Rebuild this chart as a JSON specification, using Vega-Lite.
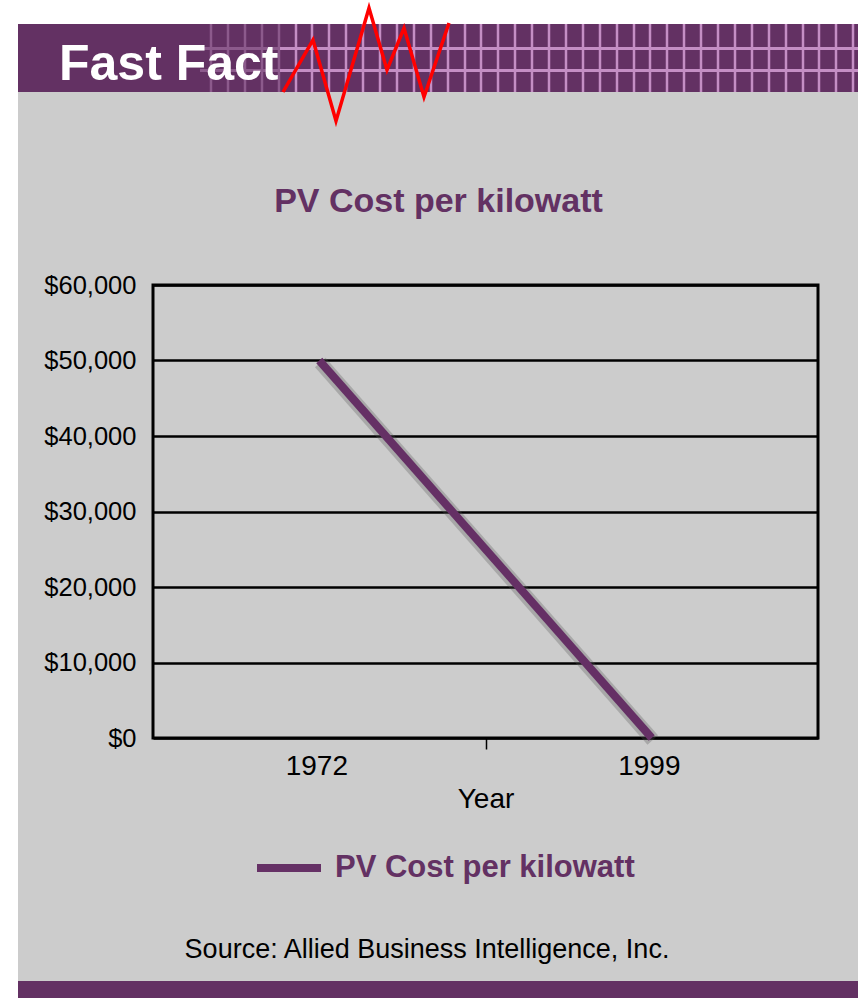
{
  "$schema": "https://vega.github.io/schema/vega-lite/v6.json",
  "background": "#cccccc",
  "padding": 0,
  "spacing": 0,
  "config": {"view": {"stroke": null}},
  "datasets": {
    "cost": [
      {"Year": "1972", "Cost": 50000, "Series": "PV Cost per kilowatt"},
      {"Year": "1999", "Cost": 0, "Series": "PV Cost per kilowatt"}
    ],
    "zig": [
      {"zx": 283, "zy": 92, "i": 0},
      {"zx": 313, "zy": 40, "i": 1},
      {"zx": 336, "zy": 121, "i": 2},
      {"zx": 369, "zy": 8, "i": 3},
      {"zx": 387, "zy": 70, "i": 4},
      {"zx": 404, "zy": 28, "i": 5},
      {"zx": 424, "zy": 97, "i": 6},
      {"zx": 449, "zy": 23, "i": 7}
    ],
    "vgrid": [
      {"gx": 211, "tone": "faint"}, {"gx": 228, "tone": "faint"}, {"gx": 245, "tone": "faint"}, {"gx": 262, "tone": "faint"}, {"gx": 279, "tone": "faint"},
      {"gx": 296, "tone": "bright"}, {"gx": 312, "tone": "bright"}, {"gx": 329, "tone": "bright"}, {"gx": 346, "tone": "bright"}, {"gx": 363, "tone": "bright"},
      {"gx": 380, "tone": "bright"}, {"gx": 397, "tone": "bright"}, {"gx": 414, "tone": "bright"}, {"gx": 431, "tone": "bright"}, {"gx": 448, "tone": "bright"},
      {"gx": 465, "tone": "bright"}, {"gx": 481, "tone": "bright"}, {"gx": 498, "tone": "bright"}, {"gx": 515, "tone": "bright"}, {"gx": 532, "tone": "bright"},
      {"gx": 549, "tone": "bright"}, {"gx": 566, "tone": "bright"}, {"gx": 583, "tone": "bright"}, {"gx": 600, "tone": "bright"}, {"gx": 617, "tone": "bright"},
      {"gx": 634, "tone": "bright"}, {"gx": 650, "tone": "bright"}, {"gx": 667, "tone": "bright"}, {"gx": 684, "tone": "bright"}, {"gx": 701, "tone": "bright"},
      {"gx": 718, "tone": "bright"}, {"gx": 735, "tone": "bright"}, {"gx": 752, "tone": "bright"}, {"gx": 769, "tone": "bright"}, {"gx": 786, "tone": "bright"},
      {"gx": 803, "tone": "bright"}, {"gx": 819, "tone": "bright"}, {"gx": 836, "tone": "bright"}, {"gx": 853, "tone": "bright"}
    ],
    "hgrid": [
      {"hx1": 200, "hx2": 280, "hy": 48.5, "tone": "faint"},
      {"hx1": 280, "hx2": 858, "hy": 48.5, "tone": "bright"},
      {"hx1": 200, "hx2": 280, "hy": 70.5, "tone": "faint"},
      {"hx1": 280, "hx2": 858, "hy": 70.5, "tone": "bright"}
    ],
    "source": [{"note": "Source: Allied Business Intelligence, Inc."}]
  },
  "hconcat": [
    {
      "width": 18,
      "height": 974,
      "data": {"values": [{}]},
      "mark": {"type": "rect", "color": "#ffffff"},
      "encoding": {
        "y": {"datum": 0, "type": "quantitative", "scale": {"domain": [24, 998], "reverse": true, "nice": false, "zero": false}, "axis": null},
        "y2": {"datum": 998}
      }
    },
    {
      "spacing": 0,
      "align": "none",
      "vconcat": [
        {
          "width": 705,
          "height": 159,
          "layer": [
            {
              "data": {"values": [{}]},
              "mark": {"type": "rect", "color": "#ffffff"},
              "encoding": {
                "x": {"datum": 18, "type": "quantitative", "scale": {"domain": [153, 858], "nice": false, "zero": false}, "axis": null},
                "x2": {"datum": 858},
                "y": {"datum": 0, "type": "quantitative", "scale": {"domain": [24, 183], "reverse": true, "nice": false, "zero": false}, "axis": null},
                "y2": {"datum": 24}
              }
            },
            {
              "data": {"values": [{}]},
              "mark": {"type": "rect", "color": "#633163"},
              "encoding": {
                "x": {"datum": 18, "type": "quantitative", "scale": {"domain": [153, 858], "nice": false, "zero": false}, "axis": null},
                "x2": {"datum": 858},
                "y": {"datum": 24, "type": "quantitative", "scale": {"domain": [24, 183], "reverse": true, "nice": false, "zero": false}, "axis": null},
                "y2": {"datum": 92}
              }
            },
            {
              "data": {"name": "vgrid"},
              "transform": [{"filter": "datum.tone === 'faint'"}],
              "mark": {"type": "rule", "color": "#8c5a8c", "strokeWidth": 2.5},
              "encoding": {
                "x": {"field": "gx", "type": "quantitative", "scale": {"domain": [153, 858], "nice": false, "zero": false}, "axis": null},
                "y": {"datum": 24, "type": "quantitative", "scale": {"domain": [24, 183], "reverse": true, "nice": false, "zero": false}, "axis": null},
                "y2": {"datum": 92}
              }
            },
            {
              "data": {"name": "vgrid"},
              "transform": [{"filter": "datum.tone === 'bright'"}],
              "mark": {"type": "rule", "color": "#c48ec4", "strokeWidth": 2.5},
              "encoding": {
                "x": {"field": "gx", "type": "quantitative", "scale": {"domain": [153, 858], "nice": false, "zero": false}, "axis": null},
                "y": {"datum": 24, "type": "quantitative", "scale": {"domain": [24, 183], "reverse": true, "nice": false, "zero": false}, "axis": null},
                "y2": {"datum": 92}
              }
            },
            {
              "data": {"name": "hgrid"},
              "transform": [{"filter": "datum.tone === 'faint'"}],
              "mark": {"type": "rule", "color": "#8c5a8c", "strokeWidth": 3},
              "encoding": {
                "x": {"field": "hx1", "type": "quantitative", "scale": {"domain": [153, 858], "nice": false, "zero": false}, "axis": null},
                "x2": {"field": "hx2"},
                "y": {"field": "hy", "type": "quantitative", "scale": {"domain": [24, 183], "reverse": true, "nice": false, "zero": false}, "axis": null}
              }
            },
            {
              "data": {"name": "hgrid"},
              "transform": [{"filter": "datum.tone === 'bright'"}],
              "mark": {"type": "rule", "color": "#c48ec4", "strokeWidth": 3},
              "encoding": {
                "x": {"field": "hx1", "type": "quantitative", "scale": {"domain": [153, 858], "nice": false, "zero": false}, "axis": null},
                "x2": {"field": "hx2"},
                "y": {"field": "hy", "type": "quantitative", "scale": {"domain": [24, 183], "reverse": true, "nice": false, "zero": false}, "axis": null}
              }
            },
            {
              "data": {"values": [{"label": "Fast Fact"}]},
              "mark": {"type": "text", "color": "#ffffff", "font": "Liberation Sans", "fontWeight": "bold", "fontSize": 50, "align": "left", "baseline": "alphabetic"},
              "encoding": {
                "text": {"field": "label"},
                "x": {"datum": 59, "type": "quantitative", "scale": {"domain": [153, 858], "nice": false, "zero": false}, "axis": null},
                "y": {"datum": 80, "type": "quantitative", "scale": {"domain": [24, 183], "reverse": true, "nice": false, "zero": false}, "axis": null}
              }
            },
            {
              "data": {"name": "zig"},
              "mark": {"type": "line", "color": "#ff0000", "strokeWidth": 3.5, "strokeJoin": "miter"},
              "encoding": {
                "x": {"field": "zx", "type": "quantitative", "scale": {"domain": [153, 858], "nice": false, "zero": false}, "axis": null},
                "y": {"field": "zy", "type": "quantitative", "scale": {"domain": [24, 183], "reverse": true, "nice": false, "zero": false}, "axis": null},
                "order": {"field": "i"}
              }
            }
          ]
        },
        {
          "width": 665,
          "height": 453,
          "view": {"stroke": "#000000", "strokeWidth": 3},
          "title": {
            "text": "PV Cost per kilowatt",
            "font": "Liberation Sans",
            "fontSize": 34,
            "fontWeight": "bold",
            "color": "#633163",
            "anchor": "middle",
            "frame": "group",
            "dx": -47,
            "baseline": "alphabetic",
            "offset": 27
          },
          "data": {"name": "cost"},
          "layer": [
            {
              "mark": {"type": "line", "color": "#555555", "opacity": 0.3, "strokeWidth": 14, "xOffset": 1, "yOffset": 2},
              "encoding": {
                "x": {"field": "Year", "type": "ordinal", "bandPosition": 0.5, "scale": {"type": "band", "paddingInner": 0, "paddingOuter": 0}},
                "y": {"field": "Cost", "type": "quantitative"}
              }
            },
            {
              "mark": {"type": "line", "strokeWidth": 8},
              "encoding": {
                "x": {
                  "field": "Year", "type": "ordinal", "bandPosition": 0.5,
                  "scale": {"type": "band", "paddingInner": 0, "paddingOuter": 0},
                  "axis": {
                    "title": "Year", "labelAngle": 0,
                    "labelFont": "Liberation Sans", "labelFontSize": 28, "labelColor": "#000000",
                    "tickSize": 11, "tickColor": "#000000", "tickWidth": 1.5, "tickOffset": 166.25, "labelOffset": -138,
                    "tickOpacity": {"condition": {"test": "datum.value === '1972'", "value": 1}, "value": 0},
                    "domain": false, "grid": false, "labelPadding": 17,
                    "titleFont": "Liberation Sans", "titleFontSize": 28, "titleFontWeight": "normal", "titleColor": "#000000", "titlePadding": 5
                  }
                },
                "y": {
                  "field": "Cost", "type": "quantitative",
                  "scale": {"domain": [0, 60000], "nice": false},
                  "axis": {
                    "values": [0, 10000, 20000, 30000, 40000, 50000, 60000],
                    "format": "$,d",
                    "labelFont": "Liberation Sans", "labelFontSize": 25.5, "labelColor": "#000000",
                    "ticks": false, "labelPadding": 17, "domain": false,
                    "grid": true, "gridColor": "#000000", "gridWidth": 2.5, "gridOpacity": 1,
                    "title": null
                  }
                },
                "color": {
                  "field": "Series", "type": "nominal",
                  "scale": {"range": ["#653065"]},
                  "legend": {
                    "orient": "none", "legendX": 253, "legendY": 808, "title": null,
                    "symbolType": "stroke", "symbolSize": 4096, "symbolStrokeWidth": 8,
                    "labelFont": "Liberation Sans", "labelFontSize": 31, "labelFontWeight": "bold",
                    "labelColor": "#633163", "labelOffset": 10, "padding": 0, "labelLimit": 600
                  }
                }
              }
            }
          ]
        },
        {
          "width": 705,
          "height": 186,
          "layer": [
            {
              "data": {"values": [{}]},
              "mark": {"type": "rect", "color": "#633163"},
              "encoding": {
                "x": {"datum": 18, "type": "quantitative", "scale": {"domain": [153, 858], "nice": false, "zero": false}, "axis": null},
                "x2": {"datum": 858},
                "y": {"datum": 978, "type": "quantitative", "scale": {"domain": [812, 998], "reverse": true, "nice": false, "zero": false}, "axis": null},
                "y2": {"datum": 998}
              }
            },
            {
              "data": {"name": "source"},
              "mark": {"type": "text", "color": "#000000", "font": "Liberation Sans", "fontSize": 27, "align": "center", "baseline": "alphabetic"},
              "encoding": {
                "text": {"field": "note"},
                "x": {"datum": 427, "type": "quantitative", "scale": {"domain": [153, 858], "nice": false, "zero": false}, "axis": null},
                "y": {"datum": 955, "type": "quantitative", "scale": {"domain": [812, 998], "reverse": true, "nice": false, "zero": false}, "axis": null}
              }
            }
          ]
        }
      ]
    }
  ]
}
